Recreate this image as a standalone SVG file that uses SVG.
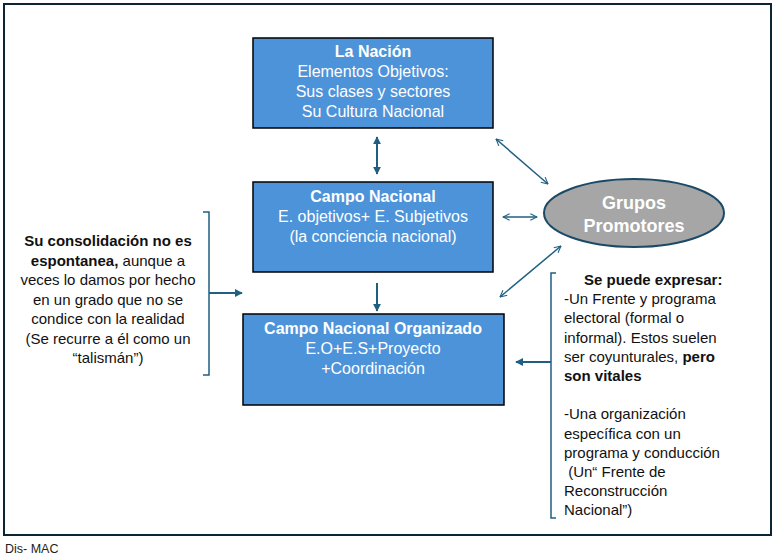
<svg xmlns="http://www.w3.org/2000/svg" width="776" height="557" viewBox="0 0 776 557">
<defs>
<style>
.box{fill:#4d93d9;stroke:#000;stroke-width:1.5}
.bt{font-family:"Liberation Sans",Arial,sans-serif;font-size:16px;fill:#fff;text-anchor:middle}
.b{font-weight:bold}
.tx{font-family:"Liberation Sans",Arial,sans-serif;font-size:15px;fill:#111}
.con{stroke:#1f5f82;stroke-width:2;fill:none}
.thin{stroke:#1f5f82;stroke-width:1.5;fill:none}
</style>
<marker id="fa" viewBox="0 0 10 10" refX="9" refY="5" markerWidth="4" markerHeight="4" orient="auto-start-reverse"><path d="M0,0L10,5L0,10z" fill="#1f5f82"/></marker>
<marker id="oa" viewBox="0 0 12 12" refX="11" refY="6" markerWidth="8" markerHeight="8" markerUnits="userSpaceOnUse" orient="auto-start-reverse"><path d="M1,1L11,6L1,11" fill="none" stroke="#1f5f82" stroke-width="1.6"/></marker>
</defs>
<rect width="776" height="557" fill="#fff"/>
<rect x="4" y="4" width="767" height="531" fill="none" stroke="#0b2533" stroke-width="2"/>
<g id="connectors">
<line class="con" x1="377" y1="137" x2="377" y2="174" marker-start="url(#fa)" marker-end="url(#fa)"/>
<line class="con" x1="377" y1="283" x2="377" y2="311" marker-end="url(#fa)"/>
<line class="thin" x1="496" y1="139" x2="548" y2="184" marker-start="url(#oa)" marker-end="url(#oa)"/>
<line class="thin" x1="503" y1="217" x2="537" y2="217" marker-start="url(#oa)" marker-end="url(#oa)"/>
<line class="thin" x1="500" y1="297" x2="561" y2="246" marker-start="url(#oa)" marker-end="url(#oa)"/>
<path class="thin" d="M203,212H209V375H203"/>
<line class="con" x1="209" y1="293" x2="242" y2="293" marker-end="url(#fa)"/>
<path class="thin" d="M556,273H551V518H556"/>
<line class="con" x1="551" y1="362" x2="516" y2="362" marker-end="url(#fa)"/>
</g>
<g id="nacion">
<rect class="box" x="253" y="38" width="240" height="90"/>
<text class="bt" x="373" y="57"><tspan class="b">La Nación</tspan><tspan x="373" dy="20">Elementos Objetivos:</tspan><tspan x="373" dy="20">Sus clases y sectores</tspan><tspan x="373" dy="20">Su Cultura Nacional</tspan></text>
</g>
<g id="campo">
<rect class="box" x="253" y="182" width="240" height="90"/>
<text class="bt" x="373" y="202"><tspan class="b">Campo Nacional</tspan><tspan x="373" dy="20">E. objetivos+ E. Subjetivos</tspan><tspan x="373" dy="20">(la conciencia nacional)</tspan></text>
</g>
<g id="organizado">
<rect class="box" x="243" y="314" width="261" height="91"/>
<text class="bt" x="373" y="334"><tspan class="b">Campo Nacional Organizado</tspan><tspan x="373" dy="20">E.O+E.S+Proyecto</tspan><tspan x="373" dy="20">+Coordinación</tspan></text>
</g>
<g id="grupos">
<ellipse cx="634" cy="213" rx="90" ry="34" fill="#a6a6a6" stroke="#1b4a66" stroke-width="2"/>
<text class="bt b" x="634" y="209" style="font-size:18px">Grupos<tspan x="634" dy="23">Promotores</tspan></text>
</g>
<g id="consolidacion">
<text class="tx" x="108" y="246" text-anchor="middle"><tspan class="b">Su consolidación no es</tspan><tspan x="108" dy="19.5"><tspan class="b">espontanea,</tspan> aunque a</tspan><tspan x="108" dy="19.5">veces lo damos por hecho</tspan><tspan x="108" dy="19.5">en un grado que no se</tspan><tspan x="108" dy="19.5">condice con la realidad</tspan><tspan x="108" dy="19.5">(Se recurre a él como un</tspan><tspan x="108" dy="19.5">“talismán”)</tspan></text>
</g>
<g id="expresar">
<text class="tx" x="584" y="285"><tspan class="b">Se puede expresar:</tspan><tspan x="564" dy="19.2">-Un Frente y programa</tspan><tspan x="564" dy="19.2">electoral (formal o</tspan><tspan x="564" dy="19.2">informal). Estos suelen</tspan><tspan x="564" dy="19.2">ser coyunturales, <tspan class="b">pero</tspan></tspan><tspan x="564" dy="19.2" class="b">son vitales</tspan><tspan x="564" dy="38.4">-Una organización</tspan><tspan x="564" dy="19.2">específica con un</tspan><tspan x="564" dy="19.2">programa y conducción</tspan><tspan x="564" dy="19.2"> (Un“ Frente de</tspan><tspan x="564" dy="19.2">Reconstrucción</tspan><tspan x="564" dy="19.2">Nacional”)</tspan></text>
</g>
<text class="tx" x="5" y="553" style="font-size:12.5px;fill:#222">Dis- MAC</text>
</svg>
